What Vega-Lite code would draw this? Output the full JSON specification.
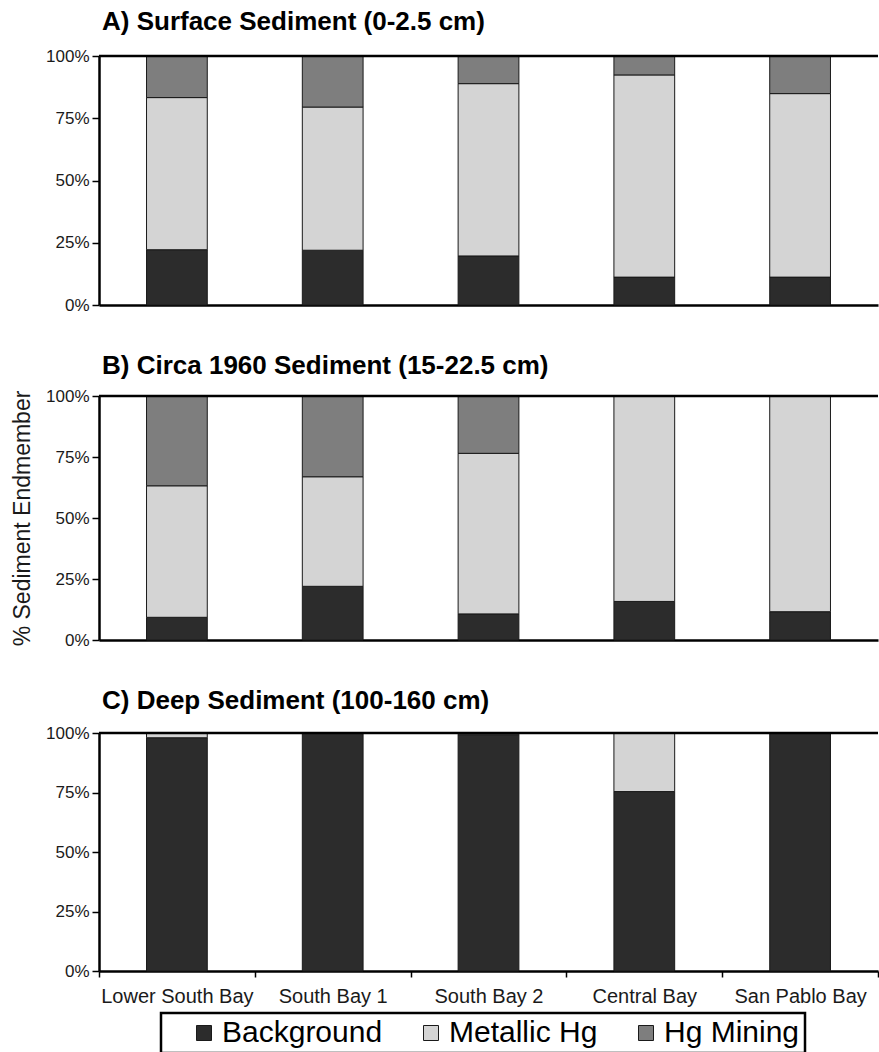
{
  "$schema": "https://vega.github.io/schema/vega-lite/v6.json",
  "padding": {"left": 11, "top": 9, "right": 0, "bottom": 0},
  "background": "white",
  "config": {
    "font": "Liberation Sans",
    "view": {"stroke": null},
    "axis": {"grid": false},
    "legend": {"strokeWidth": 2.5}
  },
  "data": {
    "values": [
      {"panel": "A", "site": "Lower South Bay", "endmember": "Background", "pct": 22.2},
      {"panel": "A", "site": "Lower South Bay", "endmember": "Metallic Hg", "pct": 61.1},
      {"panel": "A", "site": "Lower South Bay", "endmember": "Hg Mining", "pct": 16.7},
      {"panel": "A", "site": "South Bay 1", "endmember": "Background", "pct": 22.0},
      {"panel": "A", "site": "South Bay 1", "endmember": "Metallic Hg", "pct": 57.5},
      {"panel": "A", "site": "South Bay 1", "endmember": "Hg Mining", "pct": 20.5},
      {"panel": "A", "site": "South Bay 2", "endmember": "Background", "pct": 19.7},
      {"panel": "A", "site": "South Bay 2", "endmember": "Metallic Hg", "pct": 69.2},
      {"panel": "A", "site": "South Bay 2", "endmember": "Hg Mining", "pct": 11.1},
      {"panel": "A", "site": "Central Bay", "endmember": "Background", "pct": 11.2},
      {"panel": "A", "site": "Central Bay", "endmember": "Metallic Hg", "pct": 81.2},
      {"panel": "A", "site": "Central Bay", "endmember": "Hg Mining", "pct": 7.6},
      {"panel": "A", "site": "San Pablo Bay", "endmember": "Background", "pct": 11.2},
      {"panel": "A", "site": "San Pablo Bay", "endmember": "Metallic Hg", "pct": 73.7},
      {"panel": "A", "site": "San Pablo Bay", "endmember": "Hg Mining", "pct": 15.1},
      {"panel": "B", "site": "Lower South Bay", "endmember": "Background", "pct": 9.3},
      {"panel": "B", "site": "Lower South Bay", "endmember": "Metallic Hg", "pct": 53.9},
      {"panel": "B", "site": "Lower South Bay", "endmember": "Hg Mining", "pct": 36.8},
      {"panel": "B", "site": "South Bay 1", "endmember": "Background", "pct": 22.0},
      {"panel": "B", "site": "South Bay 1", "endmember": "Metallic Hg", "pct": 44.9},
      {"panel": "B", "site": "South Bay 1", "endmember": "Hg Mining", "pct": 33.1},
      {"panel": "B", "site": "South Bay 2", "endmember": "Background", "pct": 10.7},
      {"panel": "B", "site": "South Bay 2", "endmember": "Metallic Hg", "pct": 65.8},
      {"panel": "B", "site": "South Bay 2", "endmember": "Hg Mining", "pct": 23.5},
      {"panel": "B", "site": "Central Bay", "endmember": "Background", "pct": 15.8},
      {"panel": "B", "site": "Central Bay", "endmember": "Metallic Hg", "pct": 84.2},
      {"panel": "B", "site": "San Pablo Bay", "endmember": "Background", "pct": 11.6},
      {"panel": "B", "site": "San Pablo Bay", "endmember": "Metallic Hg", "pct": 88.4},
      {"panel": "C", "site": "Lower South Bay", "endmember": "Background", "pct": 98.0},
      {"panel": "C", "site": "Lower South Bay", "endmember": "Metallic Hg", "pct": 2.0},
      {"panel": "C", "site": "South Bay 1", "endmember": "Background", "pct": 100},
      {"panel": "C", "site": "South Bay 2", "endmember": "Background", "pct": 99.3},
      {"panel": "C", "site": "South Bay 2", "endmember": "Metallic Hg", "pct": 0.7},
      {"panel": "C", "site": "Central Bay", "endmember": "Background", "pct": 75.4},
      {"panel": "C", "site": "Central Bay", "endmember": "Metallic Hg", "pct": 24.6},
      {"panel": "C", "site": "San Pablo Bay", "endmember": "Background", "pct": 100}
    ]
  },
  "spacing": 40,
  "vconcat": [
    {
      "width": 779,
      "height": 249,
      "title": {"text": "A) Surface Sediment (0-2.5 cm)", "anchor": "start", "frame": "group", "fontSize": 26, "fontWeight": "bold", "color": "black", "dx": 3, "offset": 12},
      "layer": [
        {
          "transform": [{"filter": "datum.panel == 'A'"}, {"calculate": "indexof(['Background', 'Metallic Hg', 'Hg Mining'], datum.endmember)", "as": "stackorder"}],
          "mark": {"type": "bar", "width": {"band": 0.39}, "stroke": "#1a1a1a", "strokeWidth": 1},
          "encoding": {
            "x": {"field": "site", "type": "nominal", "sort": ["Lower South Bay", "South Bay 1", "South Bay 2", "Central Bay", "San Pablo Bay"], "scale": {"paddingInner": 0, "paddingOuter": 0}, "axis": {"title": null, "labels": false, "ticks": false, "domainColor": "black", "domainWidth": 2.5}},
            "y": {"field": "pct", "type": "quantitative", "stack": "zero", "scale": {"domain": [0, 100]}, "axis": {"title": null, "values": [0, 25, 50, 75, 100], "labelExpr": "datum.value + '%'", "labelFontSize": 17, "labelColor": "#1a1a1a", "labelPadding": 3, "tickSize": 7, "tickColor": "black", "tickWidth": 1.5, "domainColor": "black", "domainWidth": 2.5}},
            "order": {"field": "stackorder", "type": "quantitative"},
            "color": {"field": "endmember", "type": "nominal", "sort": ["Background", "Metallic Hg", "Hg Mining"], "scale": {"domain": ["Background", "Metallic Hg", "Hg Mining"], "range": ["#2c2c2c", "#d4d4d4", "#7e7e7e"]}, "legend": {"title": null, "orient": "none", "legendX": 62, "legendY": 957, "direction": "horizontal", "labelFontSize": 30, "labelLimit": 300, "labelColor": "black", "symbolType": "square", "symbolSize": 225, "symbolStrokeColor": "black", "symbolStrokeWidth": 1, "symbolOpacity": 1, "strokeColor": "black", "padding": 5, "symbolOffset": 23, "labelOffset": 3, "columnPadding": 10}}
          }
        },
        {
          "data": {"values": [{}]},
          "mark": {"type": "rule", "color": "black", "strokeWidth": 2.5},
          "encoding": {"y": {"datum": 100}}
        }
      ]
    },
    {
      "width": 779,
      "height": 244,
      "title": {"text": "B) Circa 1960 Sediment (15-22.5 cm)", "anchor": "start", "frame": "group", "fontSize": 26, "fontWeight": "bold", "color": "black", "dx": 3, "offset": 8},
      "layer": [
        {
          "transform": [{"filter": "datum.panel == 'B'"}, {"calculate": "indexof(['Background', 'Metallic Hg', 'Hg Mining'], datum.endmember)", "as": "stackorder"}],
          "mark": {"type": "bar", "width": {"band": 0.39}, "stroke": "#1a1a1a", "strokeWidth": 1},
          "encoding": {
            "x": {"field": "site", "type": "nominal", "sort": ["Lower South Bay", "South Bay 1", "South Bay 2", "Central Bay", "San Pablo Bay"], "scale": {"paddingInner": 0, "paddingOuter": 0}, "axis": {"title": null, "labels": false, "ticks": false, "domainColor": "black", "domainWidth": 2.5}},
            "y": {"field": "pct", "type": "quantitative", "stack": "zero", "scale": {"domain": [0, 100]}, "axis": {"title": "% Sediment Endmember", "titleFontSize": 23, "titleFontWeight": "normal", "titleColor": "#1a1a1a", "titlePadding": 11, "values": [0, 25, 50, 75, 100], "labelExpr": "datum.value + '%'", "labelFontSize": 17, "labelColor": "#1a1a1a", "labelPadding": 3, "tickSize": 7, "tickColor": "black", "tickWidth": 1.5, "domainColor": "black", "domainWidth": 2.5}},
            "order": {"field": "stackorder", "type": "quantitative"},
            "color": {"field": "endmember", "type": "nominal", "sort": ["Background", "Metallic Hg", "Hg Mining"]}
          }
        },
        {
          "data": {"values": [{}]},
          "mark": {"type": "rule", "color": "black", "strokeWidth": 2.5},
          "encoding": {"y": {"datum": 100}}
        }
      ]
    },
    {
      "width": 779,
      "height": 238,
      "title": {"text": "C) Deep Sediment (100-160 cm)", "anchor": "start", "frame": "group", "fontSize": 26, "fontWeight": "bold", "color": "black", "dx": 3, "offset": 10},
      "layer": [
        {
          "transform": [{"filter": "datum.panel == 'C'"}, {"calculate": "indexof(['Background', 'Metallic Hg', 'Hg Mining'], datum.endmember)", "as": "stackorder"}],
          "mark": {"type": "bar", "width": {"band": 0.39}, "stroke": "#1a1a1a", "strokeWidth": 1},
          "encoding": {
            "x": {"field": "site", "type": "nominal", "sort": ["Lower South Bay", "South Bay 1", "South Bay 2", "Central Bay", "San Pablo Bay"], "scale": {"paddingInner": 0, "paddingOuter": 0}, "axis": {"title": null, "labelAngle": 0, "labelFontSize": 20, "labelColor": "#1a1a1a", "labelPadding": 9, "tickBand": "extent", "tickSize": 6, "tickColor": "black", "tickWidth": 1.5, "domainColor": "black", "domainWidth": 2.5}},
            "y": {"field": "pct", "type": "quantitative", "stack": "zero", "scale": {"domain": [0, 100]}, "axis": {"title": null, "values": [0, 25, 50, 75, 100], "labelExpr": "datum.value + '%'", "labelFontSize": 17, "labelColor": "#1a1a1a", "labelPadding": 3, "tickSize": 7, "tickColor": "black", "tickWidth": 1.5, "domainColor": "black", "domainWidth": 2.5}},
            "order": {"field": "stackorder", "type": "quantitative"},
            "color": {"field": "endmember", "type": "nominal", "sort": ["Background", "Metallic Hg", "Hg Mining"]}
          }
        },
        {
          "data": {"values": [{}]},
          "mark": {"type": "rule", "color": "black", "strokeWidth": 2.5},
          "encoding": {"y": {"datum": 100}}
        }
      ]
    }
  ]
}
